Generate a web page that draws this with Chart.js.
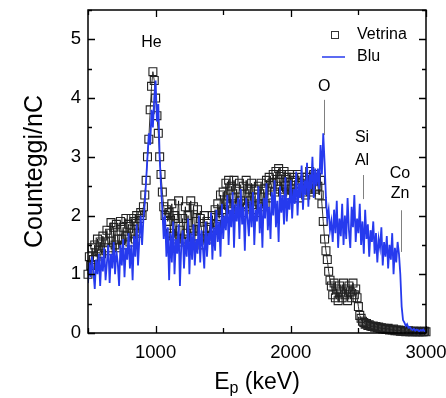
<!DOCTYPE html>
<html>
<head>
<meta charset="utf-8">
<title>Spettro PIXE - Vetrina / Blu</title>
<script src="https://cdn.jsdelivr.net/npm/chart.js"></script>
<style>
  html, body { margin: 0; padding: 0; background: #fff; }
</style>
</head>
<body>
<canvas id="spettro" width="446" height="398"></canvas>
<script>
// griglia in energia (keV): 500 -> 3000 a passi di 10
const energiaInizio = 500;
const energiaPasso = 10;

// serie "Blu" (linea)
const bluValori = [
  0.85, 1.2, 0.95, 1.3, 1.05, 0.75, 1.25, 1.0, 1.35, 0.8,
  1.3, 1.05, 1.45, 0.9, 1.2, 1.5, 0.85, 1.35, 1.1, 1.55,
  1.0, 1.4, 1.2, 0.8, 1.5, 1.15, 1.6, 0.95, 1.45, 1.25,
  1.7, 1.1, 1.5, 0.9, 1.65, 1.3, 1.85, 1.15, 1.6, 2.0,
  1.5, 1.95, 2.2, 2.6, 3.0, 3.4, 3.2, 3.8, 3.5, 4.0,
  4.3, 3.6, 3.9, 3.0, 2.5, 2.1, 1.6, 2.0, 1.3, 1.8,
  0.9, 1.7, 1.2, 1.9, 1.0, 1.6, 1.35, 1.85, 0.8, 1.5,
  1.75, 1.1, 1.6, 1.3, 1.95, 1.0, 1.7, 1.25, 1.85, 1.15,
  1.6, 1.35, 2.0, 1.2, 1.75, 1.45, 1.1, 1.9, 1.3, 1.7,
  1.5, 2.05, 1.25, 1.8, 1.4, 2.1, 1.55, 1.9, 1.3, 2.2,
  1.6, 2.0, 1.75, 2.35, 1.5, 2.1, 1.8, 2.4, 1.45, 2.2,
  1.9, 2.3, 1.6, 2.45, 1.85, 2.15, 1.4, 2.3, 1.95, 1.65,
  2.25, 1.8, 2.4, 1.5, 2.1, 1.9, 2.5, 1.7, 2.2, 1.45,
  2.3, 1.95, 2.55, 1.75, 2.15, 1.6, 2.4, 2.0, 2.6, 1.8,
  2.25, 1.55, 2.5, 2.05, 2.35, 1.85, 2.65, 1.9, 2.3, 2.1,
  2.6, 1.95, 2.45, 2.2, 2.75, 2.0, 2.55, 2.3, 2.85, 2.1,
  2.6, 2.35, 2.9, 2.15, 2.7, 2.45, 3.0, 2.3, 2.8, 2.5,
  2.8, 2.45, 3.2, 2.7, 3.4, 2.9, 2.3, 1.95, 2.1, 1.75,
  1.9, 1.55, 2.1, 1.7, 2.25, 1.45, 1.95, 1.65, 2.2, 1.5,
  2.0, 1.6, 2.3, 1.75, 1.45, 2.15, 1.8, 2.35, 1.55, 1.95,
  1.7, 2.2, 1.5, 1.9, 1.35, 2.1, 1.6, 1.85, 1.3, 1.75,
  1.55, 1.9, 1.35, 1.7, 1.2, 1.6, 1.45, 1.8, 1.15, 1.55,
  1.3, 1.65, 1.1, 1.5, 1.25, 1.7, 1.0, 1.45, 1.2, 1.55,
  1.35, 1.0, 0.45, 0.22, 0.18, 0.12, 0.15, 0.09, 0.1, 0.07,
  0.05, 0.07, 0.04, 0.06, 0.05, 0.03, 0.05, 0.04, 0.06, 0.03,
  0.04
];

// serie "Vetrina" (quadrati)
const vetrinaValori = [
  1.0, 1.3, 1.15, 1.45, 1.25, 1.5, 1.3, 1.6, 1.4, 1.55,
  1.35, 1.65, 1.45, 1.55, 1.75, 1.4, 1.7, 1.88, 1.45, 1.8,
  1.5, 1.85, 1.6, 1.45, 1.9, 1.6, 1.8, 1.5, 1.95, 1.65,
  1.85, 1.55, 1.95, 1.7, 1.9, 1.6, 2.0, 1.7, 1.95, 2.05,
  2.0, 2.15, 2.35, 2.6, 3.0, 3.3, 3.8, 4.2, 4.45, 4.3,
  4.0, 3.7, 3.4, 3.0, 2.7, 2.4, 2.15, 2.0, 2.1, 1.9,
  2.05, 1.7, 2.2, 1.65, 2.0, 1.6, 1.95, 2.25, 1.75, 1.55,
  1.95, 1.6, 2.15, 1.7, 2.0, 1.55, 2.25, 1.75, 2.15, 1.65,
  1.9, 2.1, 1.6, 1.95, 1.75, 1.5, 2.0, 1.65, 1.9, 1.6,
  1.8, 1.65, 2.0, 1.75, 2.1, 1.85, 2.2, 1.95, 2.35, 2.05,
  2.4, 2.1, 2.55, 2.2, 2.6, 2.15, 2.5, 2.3, 2.6, 2.2,
  2.45, 2.1, 2.55, 2.25, 2.05, 2.5, 2.2, 2.6, 2.15, 2.45,
  2.25, 2.55, 2.1, 2.45, 2.3, 2.05, 2.5, 2.2, 2.55, 2.15,
  2.45, 2.2, 2.6, 2.3, 2.65, 2.35, 2.55, 2.7, 2.4, 2.75,
  2.5, 2.8, 2.45, 2.7, 2.4, 2.75, 2.5, 2.65, 2.35, 2.7,
  2.45, 2.65, 2.35, 2.6, 2.4, 2.7, 2.3, 2.55, 2.65, 2.4,
  2.6, 2.35, 2.65, 2.45, 2.75, 2.4, 2.6, 2.7, 2.45, 2.65,
  2.5, 2.35, 2.6, 2.2, 1.9, 1.6, 1.4, 1.25, 1.05, 0.9,
  0.8, 0.65, 0.85, 0.6, 0.75, 0.55, 0.8, 0.7, 0.6, 0.85,
  0.65, 0.75, 0.55, 0.8, 0.7, 0.6, 0.85, 0.65, 0.75, 0.6,
  0.45, 0.3, 0.25, 0.2, 0.18, 0.15, 0.16, 0.13, 0.14, 0.12,
  0.11, 0.12, 0.1, 0.11, 0.09, 0.1, 0.08, 0.09, 0.07, 0.08,
  0.07, 0.06, 0.08, 0.05, 0.06, 0.05, 0.07, 0.04, 0.05, 0.04,
  0.05, 0.03, 0.04, 0.03, 0.04, 0.02, 0.03, 0.04, 0.02, 0.03,
  0.02, 0.03, 0.02, 0.03, 0.02, 0.02, 0.03, 0.02, 0.02, 0.03,
  0.02
];

// tacche degli assi
const tackeX = [500, 1000, 1500, 2000, 2500, 3000];
const etichetteX = [1000, 2000, 3000];
const tackeY = [0, 0.5, 1, 1.5, 2, 2.5, 3, 3.5, 4, 4.5, 5, 5.5];

// elementi segnati sullo spettro
const elementi = [
  { testo: 'He', x: 970, y: 4.95 },
  { testo: 'O', x: 2247, y: 4.19 },
  { testo: 'Si', x: 2527, y: 3.32 },
  { testo: 'Al', x: 2527, y: 2.93 },
  { testo: 'Co', x: 2808, y: 2.71 },
  { testo: 'Zn', x: 2808, y: 2.37 }
];
const marcatori = [
  { x: 2247, y1: 3.97, y2: 3.37 },
  { x: 2535, y1: 2.69, y2: 2.28 },
  { x: 2815, y1: 2.09, y2: 1.38 }
];

const FONT = '"Liberation Sans", Arial, Helvetica, sans-serif';
const BLU = 'rgb(38, 58, 238)';

const punti = vals => vals.map((v, i) => ({ x: energiaInizio + i * energiaPasso, y: v }));

// cornice, tacche interne, legenda, etichette e titolo asse x
const decorazioni = {
  id: 'decorazioni',
  afterDatasetsDraw(chart) {
    const { ctx, chartArea: a, scales: { x, y } } = chart;
    ctx.save();
    ctx.strokeStyle = '#000';
    ctx.lineWidth = 1.5;
    ctx.strokeRect(a.left, a.top, a.right - a.left, a.bottom - a.top);

    ctx.lineWidth = 1.3;
    ctx.beginPath();
    tackeY.forEach(v => {
      const py = Math.round(y.getPixelForValue(v)) + 0.5;
      const l = Number.isInteger(v) ? 7 : 4;
      ctx.moveTo(a.left, py); ctx.lineTo(a.left + l, py);
      ctx.moveTo(a.right, py); ctx.lineTo(a.right - l, py);
    });
    tackeX.forEach(v => {
      const px = Math.round(x.getPixelForValue(v)) + 0.5;
      const l = v % 1000 === 0 ? 7 : 5;
      ctx.moveTo(px, a.bottom); ctx.lineTo(px, a.bottom - l);
      ctx.moveTo(px, a.top); ctx.lineTo(px, a.top + l);
    });
    ctx.stroke();

    // linee verticali degli elementi
    ctx.strokeStyle = '#808080';
    ctx.lineWidth = 1;
    ctx.beginPath();
    marcatori.forEach(m => {
      const px = Math.round(x.getPixelForValue(m.x)) + 0.5;
      ctx.moveTo(px, y.getPixelForValue(m.y1));
      ctx.lineTo(px, y.getPixelForValue(m.y2));
    });
    ctx.stroke();

    ctx.fillStyle = '#000';
    ctx.font = '16px ' + FONT;
    ctx.textAlign = 'center';
    ctx.textBaseline = 'middle';
    elementi.forEach(e => ctx.fillText(e.testo, x.getPixelForValue(e.x), y.getPixelForValue(e.y)));

    // legenda
    const d = chart.data.datasets;
    ctx.textAlign = 'left';
    ctx.strokeStyle = '#333';
    ctx.lineWidth = 1;
    ctx.strokeRect(331.5, 31.5, 7, 7);
    ctx.fillText(d[1].label, 357, 35);
    ctx.strokeStyle = BLU;
    ctx.lineWidth = 1.5;
    ctx.beginPath();
    ctx.moveTo(322, 57); ctx.lineTo(345, 57);
    ctx.stroke();
    ctx.fillText(d[0].label, 357, 57);

    // titolo asse x con pedice
    const cx = (a.left + a.right) / 2;
    ctx.font = '23px ' + FONT;
    const wE = ctx.measureText('E').width;
    const wR = ctx.measureText(' (keV)').width;
    ctx.font = '16px ' + FONT;
    const wP = ctx.measureText('p').width;
    let sx = cx - (wE + wP + wR) / 2;
    ctx.textBaseline = 'alphabetic';
    ctx.font = '23px ' + FONT;
    ctx.fillText('E', sx, 389);
    ctx.font = '16px ' + FONT;
    ctx.fillText('p', sx + wE, 393);
    ctx.font = '23px ' + FONT;
    ctx.fillText(' (keV)', sx + wE + wP, 389);
    ctx.restore();
  }
};

new Chart(document.getElementById('spettro'), {
  type: 'scatter',
  data: {
    datasets: [
      {
        label: 'Blu',
        data: punti(bluValori),
        showLine: true,
        borderColor: BLU,
        borderWidth: 1.8,
        pointRadius: 0,
        tension: 0,
        order: 0
      },
      {
        label: 'Vetrina',
        data: punti(vetrinaValori),
        showLine: true,
        borderColor: '#000',
        borderWidth: 0.8,
        pointStyle: 'rect',
        pointRadius: 5.6,
        pointBorderWidth: 1.1,
        pointBorderColor: '#222',
        pointBackgroundColor: 'rgba(255,255,255,0)',
        clip: false,
        order: 1
      }
    ]
  },
  options: {
    responsive: false,
    animation: false,
    layout: { padding: { top: 10, right: 20, left: 0, bottom: 0 } },
    plugins: {
      legend: { display: false },
      tooltip: { enabled: false }
    },
    scales: {
      x: {
        type: 'linear',
        min: 500,
        max: 3000,
        grid: { display: false, drawTicks: false },
        border: { display: false },
        ticks: {
          stepSize: 500,
          padding: 9,
          color: '#000',
          font: { family: FONT, size: 18.5 },
          maxRotation: 0,
          callback: v => etichetteX.includes(v) ? String(v) : ''
        },
        afterFit(s) { s.height = 65; s.paddingLeft = 0; s.paddingRight = 0; }
      },
      y: {
        min: 0,
        max: 5.5,
        grid: { display: false, drawTicks: false },
        border: { display: false },
        ticks: {
          stepSize: 1,
          includeBounds: false,
          padding: 7,
          color: '#000',
          font: { family: FONT, size: 18.5 }
        },
        title: {
          display: true,
          text: 'Counteggi/nC',
          color: '#000',
          font: { family: FONT, size: 25 },
          padding: { top: 20, bottom: 0 }
        },
        afterFit(s) { s.width = 88; s.paddingTop = 0; s.paddingBottom = 0; }
      }
    }
  },
  plugins: [decorazioni]
});
</script>
</body>
</html>
